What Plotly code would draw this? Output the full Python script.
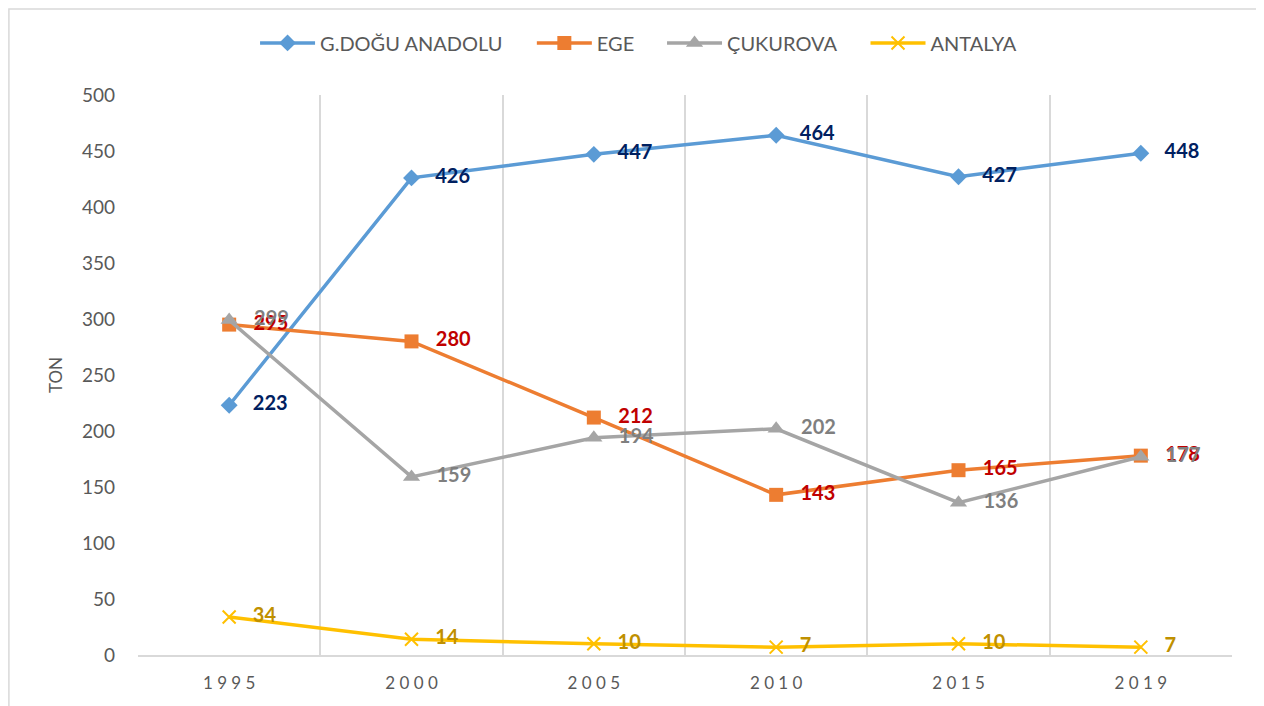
import plotly.graph_objects as go

years = ["1995", "2000", "2005", "2010", "2015", "2019"]
tick_labels = ["1 9 9 5", "2 0 0 0", "2 0 0 5", "2 0 1 0", "2 0 1 5", "2 0 1 9"]
gdogu = [223, 426, 447, 464, 427, 448]
ege = [295, 280, 212, 143, 165, 178]
cukurova = [299, 159, 194, 202, 136, 177]
antalya = [34, 14, 10, 7, 10, 7]

series = [
    ("G.DOĞU ANADOLU", gdogu, "#5B9BD5", dict(symbol="diamond", size=13), "#002060", "legend", 0.107),
    ("EGE", ege, "#ED7D31", dict(symbol="square", size=14), "#C00000", "legend2", 0.360),
    ("ÇUKUROVA", cukurova, "#A5A5A5", dict(symbol="triangle-up", size=15), "#7F7F7F", "legend3", 0.479),
    ("ANTALYA", antalya, "#FFC000", dict(symbol="x-thin", size=13, line=dict(width=2, color="#FFC000")), "#BF9000", "legend4", 0.665),
]

fig = go.Figure()
legends = {}
for name, vals, color, marker, lblcolor, lg, lx in series:
    m = dict(color=color, **marker)
    fig.add_trace(go.Scatter(
        x=years, y=vals, name=name, mode="lines+markers+text",
        line=dict(color=color, width=3.5),
        marker=m,
        text=[str(v) for v in vals],
        texttemplate="   %{text}",
        textposition="middle right",
        textfont=dict(family="Lato, Open Sans, sans-serif", size=20, color=lblcolor, weight="bold"),
        cliponaxis=False,
        legend=lg,
    ))
    legends[lg] = dict(orientation="h", x=lx, xanchor="left", y=1.093, yanchor="middle",
                       font=dict(size=20, color="#595959"), itemwidth=55,
                       bgcolor="rgba(0,0,0,0)")

fig.update_layout(
    width=1264, height=706,
    margin=dict(l=130, r=40, t=87, b=59, autoexpand=False),
    paper_bgcolor="white", plot_bgcolor="white",
    font=dict(family="Lato, Open Sans, sans-serif", color="#595959"),
    showlegend=True,
    xaxis=dict(
        type="category", categoryorder="array", categoryarray=years,
        tickvals=years, ticktext=tick_labels,
        range=[-0.5, 5.5], tickson="boundaries", showgrid=True,
        gridcolor="#D9D9D9", gridwidth=1.5,
        showline=True, linecolor="#D9D9D9", linewidth=1.5,
        ticks="", tickfont=dict(size=17, color="#595959"), ticklabelstandoff=12,
    ),
    yaxis=dict(
        range=[0, 500], dtick=50, showgrid=False, zeroline=False,
        showline=False, ticks="", tickfont=dict(size=19, color="#595959"),
        ticklabelstandoff=22,
        title=dict(text="TON", font=dict(size=17, color="#595959"), standoff=14),
    ),
    shapes=[dict(type="rect", xref="paper", yref="paper",
                 x0=-0.118, x1=1.0265, y0=-0.1, y1=1.1535,
                 line=dict(color="#D9D9D9", width=1.5), fillcolor="rgba(0,0,0,0)", layer="below")],
    **legends,
)

fig.write_html("out.html")
